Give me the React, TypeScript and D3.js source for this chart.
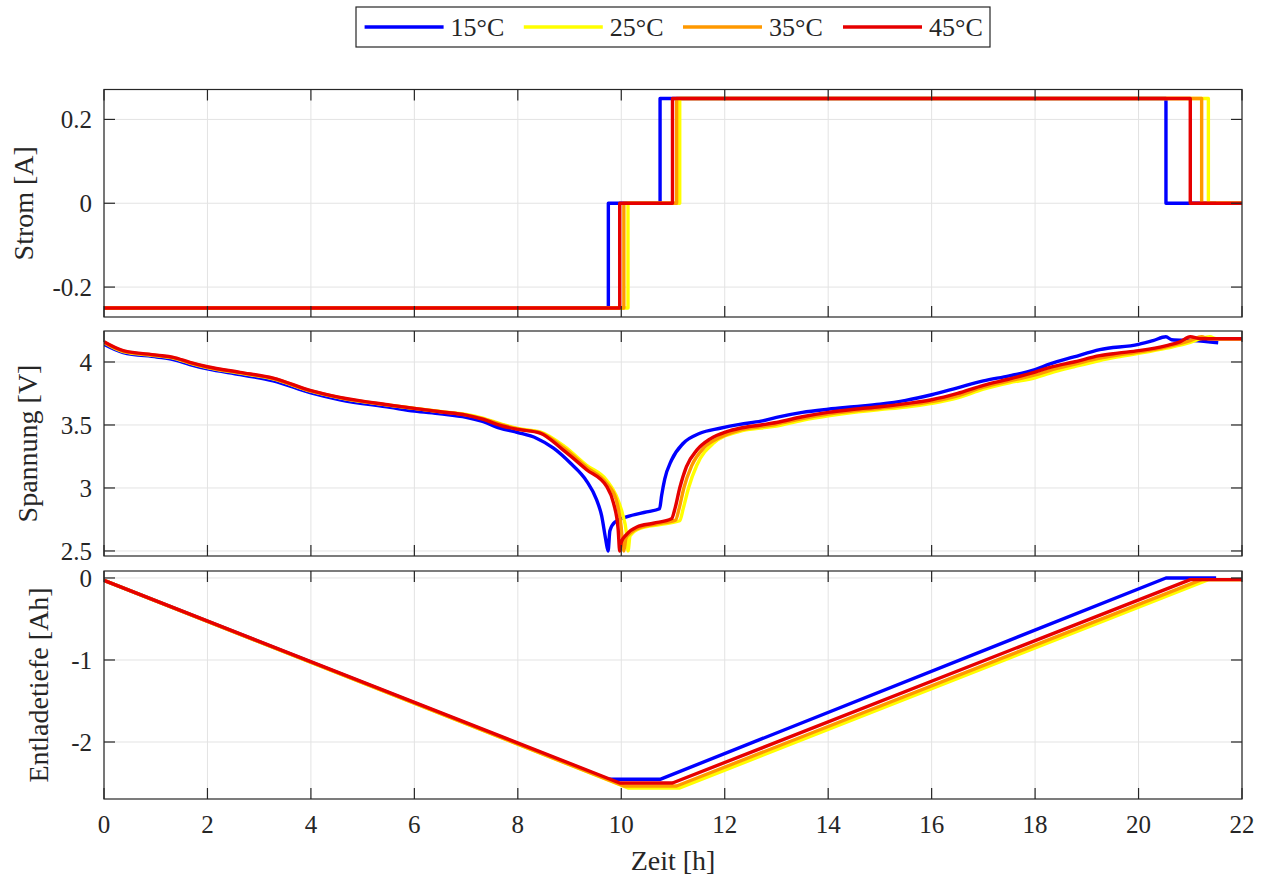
import React from 'react';
import * as d3 from 'd3';

// ---------- DATA ----------
const seriesNames = ['15°C', '25°C', '35°C', '45°C'];
const seriesColors = ['#0000ff', '#ffff00', '#ff9900', '#e60000'];

// Current: step change times (h) and levels (A)
const currentLevels = [-0.25, 0, 0.25, 0, 0];
const currentTimes15 = [0, 9.75, 10.75, 20.53, 21.5];
const currentTimes25 = [0, 10.13, 11.13, 21.35, 22];
const currentTimes35 = [0, 10.05, 11.07, 21.22, 22];
const currentTimes45 = [0, 9.97, 10.99, 21.0, 22];

// Voltage [t (h), U (V)]
const voltage15: [number, number][] = [
  [0, 4.14], [0.37, 4.075], [1.02, 4.04], [1.34, 4.02], [1.66, 3.98], [2.0, 3.945], [2.63, 3.9], [3.27, 3.85],
  [4.0, 3.755], [4.56, 3.7], [5.53, 3.64], [6.0, 3.61], [6.5, 3.588], [7.0, 3.56], [7.3, 3.53], [7.65, 3.475],
  [8.0, 3.44], [8.36, 3.395], [8.69, 3.316], [9.01, 3.2], [9.33, 3.055], [9.52, 2.91], [9.62, 2.78], [9.7, 2.59],
  [9.745, 2.5], [9.78, 2.66], [9.88, 2.73], [10.1, 2.77], [10.49, 2.81], [10.74, 2.835], [10.78, 2.94],
  [10.84, 3.07], [10.97, 3.22], [11.2, 3.355], [11.52, 3.434], [11.91, 3.474], [12.29, 3.505], [12.7, 3.53],
  [13.0, 3.56], [13.5, 3.6], [14.0, 3.625], [14.5, 3.645], [15.0, 3.665], [15.5, 3.695], [16.0, 3.74],
  [16.5, 3.795], [17.0, 3.85], [17.5, 3.89], [18.0, 3.94], [18.29, 3.985], [18.75, 4.04], [19.25, 4.098],
  [20.0, 4.14], [20.28, 4.17], [20.53, 4.2], [20.64, 4.177], [21.06, 4.17], [21.54, 4.153],
];
const voltage25: [number, number][] = [
  [0, 4.155], [0.37, 4.083], [1.02, 4.05], [1.34, 4.031], [1.66, 3.991], [2.0, 3.955], [2.63, 3.912], [3.27, 3.866],
  [4.0, 3.768], [4.56, 3.715], [5.53, 3.656], [6.0, 3.632], [6.5, 3.607], [7.0, 3.583], [7.3, 3.556], [7.7, 3.505],
  [8.0, 3.472], [8.43, 3.445], [8.9, 3.33], [9.33, 3.18], [9.72, 3.06], [9.9, 2.94], [10.02, 2.8], [10.1, 2.64],
  [10.13, 2.5], [10.17, 2.62], [10.36, 2.68], [10.75, 2.71], [11.13, 2.74], [11.2, 2.84], [11.3, 3.0],
  [11.46, 3.18], [11.78, 3.355], [12.29, 3.45], [12.7, 3.475], [13.0, 3.492], [13.5, 3.537], [14.0, 3.572],
  [14.5, 3.6], [15.0, 3.622], [15.5, 3.642], [16.0, 3.672], [16.5, 3.715], [17.0, 3.785], [17.5, 3.835],
  [18.0, 3.875], [18.29, 3.912], [18.75, 3.962], [19.25, 4.012], [19.6, 4.04], [20.0, 4.068], [20.54, 4.11],
  [21.0, 4.155], [21.2, 4.185], [21.38, 4.2], [21.5, 4.185], [22, 4.185],
];
const voltage35: [number, number][] = [
  [0, 4.157], [0.37, 4.087], [1.02, 4.052], [1.34, 4.034], [1.66, 3.994], [2.0, 3.958], [2.63, 3.915], [3.27, 3.869],
  [4.0, 3.77], [4.56, 3.717], [5.53, 3.657], [6.0, 3.632], [6.5, 3.606], [7.0, 3.58], [7.3, 3.552], [7.7, 3.5],
  [8.0, 3.468], [8.43, 3.44], [8.9, 3.315], [9.33, 3.165], [9.72, 3.035], [9.9, 2.91], [9.99, 2.72], [10.05, 2.5],
  [10.09, 2.6], [10.2, 2.65], [10.4, 2.69], [10.7, 2.715], [11.05, 2.745], [11.12, 2.84], [11.21, 3.0],
  [11.36, 3.175], [11.6, 3.32], [11.9, 3.4], [12.29, 3.46], [12.7, 3.487], [13.0, 3.506], [13.5, 3.551],
  [14.0, 3.586], [14.5, 3.612], [15.0, 3.633], [15.5, 3.656], [16.0, 3.686], [16.5, 3.732], [17.0, 3.8],
  [17.5, 3.85], [18.0, 3.897], [18.29, 3.934], [18.75, 3.981], [19.25, 4.031], [19.6, 4.055], [20.0, 4.079],
  [20.54, 4.12], [21.0, 4.17], [21.22, 4.2], [21.35, 4.185], [22, 4.185],
];
const voltage45: [number, number][] = [
  [0, 4.16], [0.37, 4.09], [1.02, 4.055], [1.34, 4.037], [1.66, 3.997], [2.0, 3.962], [2.63, 3.918], [3.27, 3.872],
  [4.0, 3.772], [4.56, 3.719], [5.53, 3.658], [6.0, 3.632], [6.5, 3.605], [7.0, 3.578], [7.3, 3.548], [7.7, 3.492],
  [8.0, 3.465], [8.43, 3.436], [8.88, 3.3], [9.33, 3.145], [9.72, 3.01], [9.85, 2.88], [9.94, 2.67], [9.97, 2.5],
  [10.0, 2.57], [10.1, 2.63], [10.3, 2.69], [10.62, 2.72], [10.97, 2.755], [11.04, 2.84], [11.13, 3.0],
  [11.26, 3.17], [11.46, 3.3], [11.72, 3.39], [12.04, 3.447], [12.29, 3.474], [12.7, 3.5], [13.0, 3.52],
  [13.5, 3.565], [14.0, 3.6], [14.5, 3.625], [15.0, 3.645], [15.5, 3.67], [16.0, 3.7], [16.5, 3.75],
  [17.0, 3.815], [17.5, 3.865], [18.0, 3.92], [18.29, 3.957], [18.75, 4.0], [19.25, 4.05], [19.6, 4.07],
  [20.0, 4.09], [20.54, 4.13], [20.8, 4.16], [21.0, 4.2], [21.19, 4.185], [22, 4.185],
];

// Depth of discharge [t (h), Q (Ah)]
const dod15: [number, number][] = [[0, -0.03], [9.75, -2.455], [10.75, -2.455], [20.53, 0.0], [21.5, 0.0]];
const dod25: [number, number][] = [[0, -0.03], [10.13, -2.56], [11.13, -2.56], [21.35, -0.02], [22, -0.02]];
const dod35: [number, number][] = [[0, -0.03], [10.05, -2.537], [11.07, -2.537], [21.22, -0.02], [22, -0.02]];
const dod45: [number, number][] = [[0, -0.03], [9.97, -2.5], [10.99, -2.5], [21.0, -0.02], [22, -0.02]];

const xTicks = [0, 2, 4, 6, 8, 10, 12, 14, 16, 18, 20, 22];
const currentTicks = [-0.2, 0, 0.2];
const voltageTicks = [2.5, 3, 3.5, 4];
const dodTicks = [-2, -1, 0];

const xLabel = 'Zeit [h]';
const currentLabel = 'Strom [A]';
const voltageLabel = 'Spannung [V]';
const dodLabel = 'Entladetiefe [Ah]';

// ---------- LAYOUT ----------
const W = 1264;
const H = 877;
const L = 104;
const R = 1242;
const FONT = 'Liberation Serif, DejaVu Serif, serif';
const AXIS = '#262626';
const GRID = '#e3e3e3';
const TICK = 11;
const LW = 3.4;

const x = d3.scaleLinear().domain([0, 22]).range([L, R]);

function stepPoints(times: number[]): [number, number][] {
  return times.map((t, i) => [t, currentLevels[i]] as [number, number]);
}

const currentSeries = [currentTimes15, currentTimes25, currentTimes35, currentTimes45].map(stepPoints);
const voltageSeries = [voltage15, voltage25, voltage35, voltage45];
const dodSeries = [dod15, dod25, dod35, dod45];

type PanelProps = {
  id: string;
  top: number;
  bottom: number;
  domain: [number, number];
  ticks: number[];
  fmt: (v: number) => string;
  label: string;
  labelX: number;
  data: [number, number][][];
  curve: d3.CurveFactory;
  showX: boolean;
};

const textStyle = { fontFamily: FONT };

function Panel(p: PanelProps) {
  const y = d3.scaleLinear().domain(p.domain).range([p.bottom, p.top]);
  const line = d3
    .line<[number, number]>()
    .x((d) => x(d[0]))
    .y((d) => y(d[1]))
    .curve(p.curve);
  const midY = (p.top + p.bottom) / 2;
  return (
    <g>
      <defs>
        <clipPath id={`clip-${p.id}`}>
          <rect x={L} y={p.top - 2} width={R - L} height={p.bottom - p.top + 4} />
        </clipPath>
      </defs>
      <rect x={L} y={p.top} width={R - L} height={p.bottom - p.top} fill="#fff" />
      {xTicks.map((t) => (
        <line key={`gx${t}`} x1={x(t)} x2={x(t)} y1={p.top} y2={p.bottom} stroke={GRID} strokeWidth={1} />
      ))}
      {p.ticks.map((t) => (
        <line key={`gy${t}`} x1={L} x2={R} y1={y(t)} y2={y(t)} stroke={GRID} strokeWidth={1} />
      ))}
      <g clipPath={`url(#clip-${p.id})`}>
        {p.data.map((d, i) => (
          <path
            key={i}
            d={line(d) || ''}
            fill="none"
            stroke={seriesColors[i]}
            strokeWidth={LW}
            strokeLinejoin="round"
          />
        ))}
      </g>
      <rect x={L} y={p.top} width={R - L} height={p.bottom - p.top} fill="none" stroke={AXIS} strokeWidth={1.2} />
      {xTicks.map((t) => (
        <g key={`tx${t}`}>
          <line x1={x(t)} x2={x(t)} y1={p.bottom} y2={p.bottom - TICK} stroke={AXIS} strokeWidth={1.2} />
          <line x1={x(t)} x2={x(t)} y1={p.top} y2={p.top + TICK} stroke={AXIS} strokeWidth={1.2} />
        </g>
      ))}
      {p.ticks.map((t) => (
        <g key={`ty${t}`}>
          <line x1={L} x2={L + TICK} y1={y(t)} y2={y(t)} stroke={AXIS} strokeWidth={1.2} />
          <line x1={R} x2={R - TICK} y1={y(t)} y2={y(t)} stroke={AXIS} strokeWidth={1.2} />
          <text x={L - 12} y={y(t)} dy="0.35em" textAnchor="end" style={textStyle} fontSize={25} fill={AXIS}>
            {p.fmt(t)}
          </text>
        </g>
      ))}
      {p.showX &&
        xTicks.map((t) => (
          <text
            key={`lx${t}`}
            x={x(t)}
            y={p.bottom + 34}
            textAnchor="middle"
            style={textStyle}
            fontSize={25}
            fill={AXIS}
          >
            {t}
          </text>
        ))}
      <text
        transform={`translate(${p.labelX},${midY}) rotate(-90)`}
        textAnchor="middle"
        style={textStyle}
        fontSize={28}
        fill={AXIS}
      >
        {p.label}
      </text>
    </g>
  );
}

const fmtCur = (v: number) => (v === 0 ? '0' : d3.format('.1f')(v).replace('−', '-'));
const fmtVolt = (v: number) => String(v);
const fmtDod = (v: number) => String(v);

export default function App() {
  const legendX0 = 356;
  const legendY0 = 7;
  const legendW = 634;
  const legendH = 40;
  const entryStart = [364.6, 523.8, 683, 843];
  const lineLen = 79;
  return (
    <svg
      width={W}
      height={H}
      style={{ position: 'absolute', left: 0, top: 0, background: '#fff' }}
      xmlns="http://www.w3.org/2000/svg"
    >
      <rect x={0} y={0} width={W} height={H} fill="#fff" />
      <Panel
        id="cur"
        top={89.5}
        bottom={317}
        domain={[-0.2714, 0.2714]}
        ticks={currentTicks}
        fmt={fmtCur}
        label={currentLabel}
        labelX={33}
        data={currentSeries}
        curve={d3.curveStepAfter}
        showX={false}
      />
      <Panel
        id="volt"
        top={331}
        bottom={556}
        domain={[2.46, 4.246]}
        ticks={voltageTicks}
        fmt={fmtVolt}
        label={voltageLabel}
        labelX={37}
        data={voltageSeries}
        curve={d3.curveMonotoneX}
        showX={false}
      />
      <Panel
        id="dod"
        top={571}
        bottom={799}
        domain={[-2.695, 0.085]}
        ticks={dodTicks}
        fmt={fmtDod}
        label={dodLabel}
        labelX={48}
        data={dodSeries}
        curve={d3.curveLinear}
        showX={true}
      />
      <text x={(L + R) / 2} y={870} textAnchor="middle" style={textStyle} fontSize={28} fill={AXIS}>
        {xLabel}
      </text>
      <g>
        <rect x={legendX0} y={legendY0} width={legendW} height={legendH} fill="#fff" stroke={AXIS} strokeWidth={1.2} />
        {seriesNames.map((n, i) => (
          <g key={n}>
            <line
              x1={entryStart[i]}
              x2={entryStart[i] + lineLen}
              y1={legendY0 + legendH / 2}
              y2={legendY0 + legendH / 2}
              stroke={seriesColors[i]}
              strokeWidth={LW}
            />
            <text
              x={entryStart[i] + lineLen + 7}
              y={legendY0 + legendH / 2}
              dy="0.35em"
              style={textStyle}
              fontSize={26}
              fill={AXIS}
            >
              {n}
            </text>
          </g>
        ))}
      </g>
    </svg>
  );
}
